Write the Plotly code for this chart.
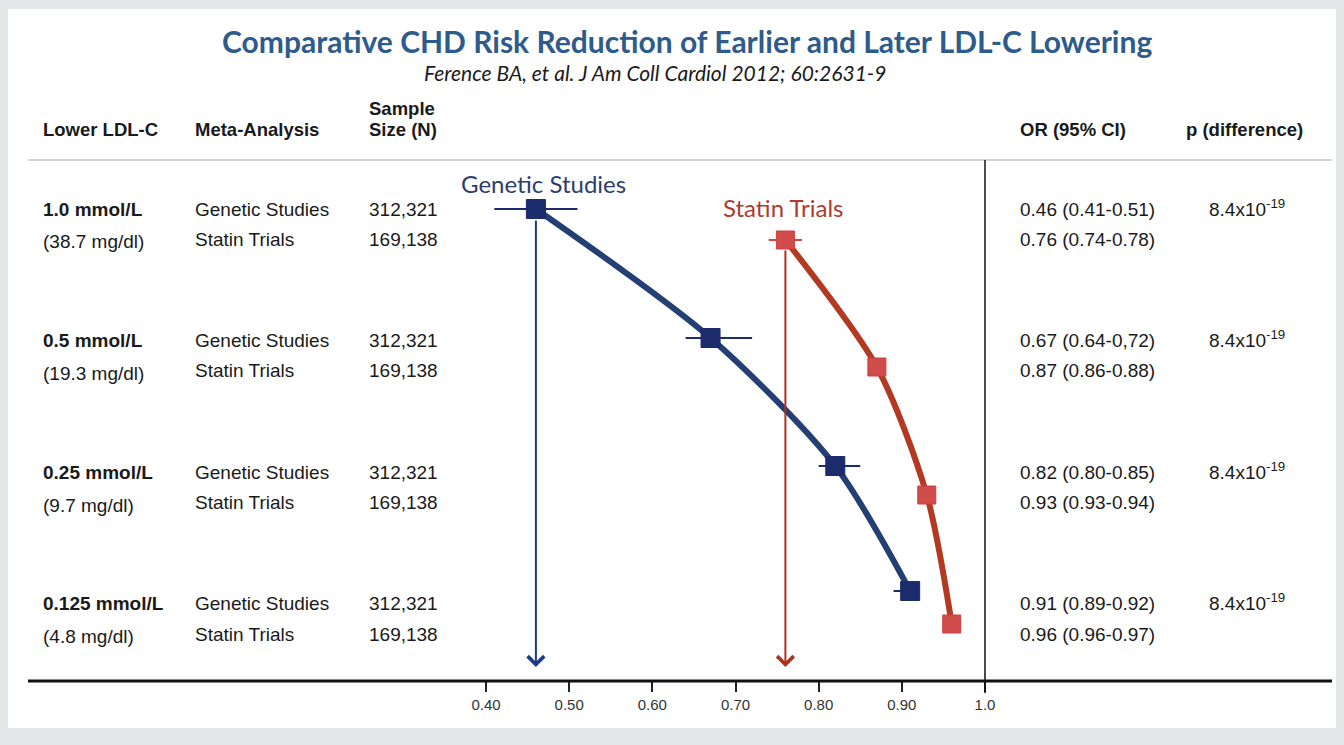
import plotly.graph_objects as go

# ---- data -------------------------------------------------------------
ldl_mmol = ["1.0 mmol/L", "0.5 mmol/L", "0.25 mmol/L", "0.125 mmol/L"]
ldl_mgdl = ["(38.7 mg/dl)", "(19.3 mg/dl)", "(9.7 mg/dl)", "(4.8 mg/dl)"]

genetic_n = "312,321"
statin_n = "169,138"

genetic_or = [0.46, 0.67, 0.82, 0.91]
genetic_lo = [0.41, 0.64, 0.80, 0.89]
genetic_hi = [0.51, 0.72, 0.85, 0.92]
genetic_txt = ["0.46 (0.41-0.51)", "0.67 (0.64-0,72)", "0.82 (0.80-0.85)", "0.91 (0.89-0.92)"]

statin_or = [0.76, 0.87, 0.93, 0.96]
statin_lo = [0.74, 0.86, 0.93, 0.96]
statin_hi = [0.78, 0.88, 0.94, 0.97]
statin_txt = ["0.76 (0.74-0.78)", "0.87 (0.86-0.88)", "0.93 (0.93-0.94)", "0.96 (0.96-0.97)"]

p_diff = ["8.4x10<sup>-19</sup>"] * 4

tick_vals = [0.40, 0.50, 0.60, 0.70, 0.80, 0.90, 1.0]
tick_text = ["0.40", "0.50", "0.60", "0.70", "0.80", "0.90", "1.0"]
null_or = 1.0

# ---- layout constants (pixels) -----------------------------------------
W, H = 1344, 745
row_text_y = [209, 340, 472, 603]      # first line of each row block
row_gap = 31                            # second line offset
gen_mark_y = [209, 338, 466, 591]
sta_mark_y = [240, 367, 495, 624]
axis_y = 681
header_y = 160

px_per_unit = (985 - 486) / 0.6
x_range = [0.4 - 486 / px_per_unit, 0.4 + (W - 486) / px_per_unit]

BLUE = "#1b2b6b"
BLUE_LINE = "#243f73"
RED = "#cf4c4a"
RED_LINE = "#b23a22"
TITLE_BLUE = "#2d5b8c"
TABLE_FONT = "Liberation Sans, Arial, sans-serif"
LABEL_FONT = "Lato, Open Sans, sans-serif"
TXT = "#1a1a1a"


def px(x):
    return x / W


def py(y):
    return 1 - y / H


fig = go.Figure()

# connecting curves
fig.add_trace(go.Scatter(x=genetic_or, y=gen_mark_y, mode="lines",
                         line=dict(color=BLUE_LINE, width=6, shape="spline", smoothing=0.8),
                         hoverinfo="skip"))
fig.add_trace(go.Scatter(x=statin_or, y=sta_mark_y, mode="lines",
                         line=dict(color=RED_LINE, width=6, shape="spline", smoothing=0.8),
                         hoverinfo="skip"))

# point estimates with 95% CI
fig.add_trace(go.Scatter(
    x=genetic_or, y=gen_mark_y, mode="markers",
    marker=dict(symbol="square", size=19, color=BLUE, line=dict(color=BLUE, width=1)),
    error_x=dict(type="data", symmetric=False,
                 array=[h - o for h, o in zip(genetic_hi, genetic_or)],
                 arrayminus=[o - l for o, l in zip(genetic_or, genetic_lo)],
                 color=BLUE, thickness=2, width=0),
    name="Genetic Studies"))
fig.add_trace(go.Scatter(
    x=statin_or, y=sta_mark_y, mode="markers",
    marker=dict(symbol="square", size=18, color=RED, line=dict(color="#c9403e", width=1)),
    error_x=dict(type="data", symmetric=False,
                 array=[h - o for h, o in zip(statin_hi, statin_or)],
                 arrayminus=[o - l for o, l in zip(statin_or, statin_lo)],
                 color="#c74a45", thickness=2, width=0),
    name="Statin Trials"))

shapes = [
    # white panel
    dict(type="rect", xref="paper", yref="paper", x0=px(8), x1=px(1336), y0=py(728), y1=py(9),
         fillcolor="white", line=dict(width=0), layer="below"),
    # header rule
    dict(type="line", xref="paper", yref="paper", x0=px(28), x1=px(1332), y0=py(header_y), y1=py(header_y),
         line=dict(color="#cfd2d6", width=2), layer="below"),
    # baseline
    dict(type="line", xref="paper", yref="paper", x0=px(28), x1=px(1332), y0=py(axis_y), y1=py(axis_y),
         line=dict(color="#111111", width=3)),
    # line of no effect
    dict(type="line", xref="x", yref="y", x0=null_or, x1=null_or, y0=header_y, y1=axis_y + 12,
         line=dict(color="#111111", width=1.5)),
]

ann = []


def text(x, y, s, size=19, bold=False, color=TXT, anchor="left", family=TABLE_FONT, italic=False):
    if bold:
        s = f"<b>{s}</b>"
    if italic:
        s = f"<i>{s}</i>"
    ann.append(dict(x=px(x), y=py(y), xref="paper", yref="paper", text=s, showarrow=False,
                    xanchor=anchor, yanchor="middle", font=dict(family=family, size=size, color=color)))


# titles
text(687, 41, "Comparative CHD Risk Reduction of Earlier and Later LDL-C Lowering", size=30, bold=True,
     color=TITLE_BLUE, anchor="center", family=LABEL_FONT)
text(655, 72, "Ference BA, et al. J Am Coll Cardiol 2012; 60:2631-9", size=21, italic=True,
     color="#1a1a1a", anchor="center", family=LABEL_FONT)

# column headers
text(41, 130, "Lower LDL-C", size=18.5, bold=True)
text(193, 130, "Meta-Analysis", size=18.5, bold=True)
text(367, 108, "Sample", size=18.5, bold=True)
text(367, 130, "Size (N)", size=18.5, bold=True)
text(1018, 130, "OR (95% CI)", size=18.5, bold=True)
text(1184, 130, "p (difference)", size=18.5, bold=True)

# table rows
for i in range(4):
    y1 = row_text_y[i]
    y2 = y1 + row_gap
    text(41, y1, ldl_mmol[i], bold=True)
    text(41, y2 + 2, ldl_mgdl[i])
    text(193, y1, "Genetic Studies")
    text(193, y2, "Statin Trials")
    text(367, y1, genetic_n)
    text(367, y2, statin_n)
    text(1018, y1, genetic_txt[i])
    text(1018, y2, statin_txt[i])
    text(1207, y1 - 1, p_diff[i])

# series labels
text(543, 183, "Genetic Studies", size=24, color="#2c3e70", anchor="center", family=LABEL_FONT)
text(783, 208, "Statin Trials", size=24, color="#b03a2e", anchor="center", family=LABEL_FONT)

# arrows dropping from the largest-effect estimates to the axis
for xv, y0, col in [(genetic_or[0], gen_mark_y[0] + 10, "#1c3a8a"), (statin_or[0], sta_mark_y[0] + 9, "#b0301e")]:
    ann.append(dict(x=xv, y=axis_y - 14, ax=xv, ay=y0, xref="x", yref="y", axref="x", ayref="y",
                    text="", showarrow=True, arrowhead=4, arrowsize=1.6, arrowwidth=2, arrowcolor=col))

fig.update_layout(
    width=W, height=H, margin=dict(l=0, r=0, t=0, b=0),
    paper_bgcolor="#e6e7e9", plot_bgcolor="rgba(0,0,0,0)",
    showlegend=False, shapes=shapes, annotations=ann,
    xaxis=dict(range=x_range, domain=[0, 1], anchor="free", position=(H - axis_y) / H,
               showgrid=False, zeroline=False, showline=False,
               ticks="outside", ticklen=10, tickwidth=2, tickcolor="#222222",
               tickvals=tick_vals, ticktext=tick_text,
               tickfont=dict(family=TABLE_FONT, size=15, color="#333333"), fixedrange=True),
    yaxis=dict(range=[H, 0], domain=[0, 1], visible=False, fixedrange=True),
)

fig.write_html("out.html")
